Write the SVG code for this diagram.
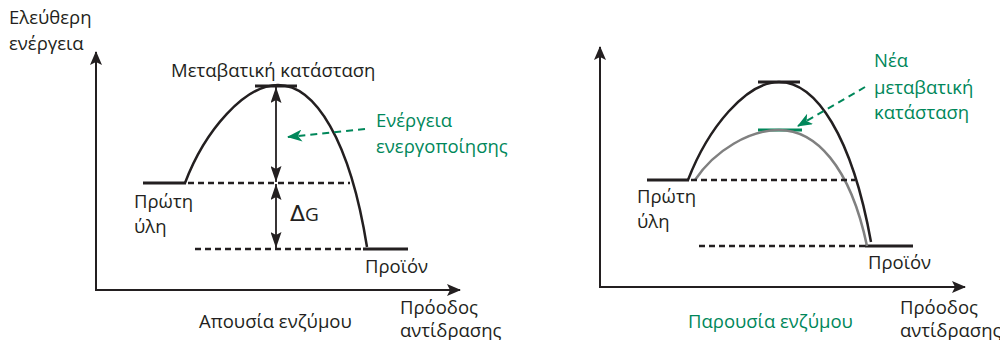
<svg xmlns="http://www.w3.org/2000/svg" width="1000" height="340" viewBox="0 0 1000 340">
<style>
text{font-family:"Open Sans","Noto Sans","DejaVu Sans",sans-serif;font-size:18.5px;fill:#231f20}
.g{fill:#00875a}
.ax{stroke:#231f20;stroke-width:2;fill:none}
.solid{stroke:#231f20;stroke-width:3;fill:none}
.dash{stroke:#231f20;stroke-width:2.5;stroke-dasharray:6 4;fill:none}
.curve{stroke:#231f20;stroke-width:2.5;fill:none}
.gray{stroke:#808080;stroke-width:2.5;fill:none}
.garrow{stroke:#00875a;stroke-width:2;stroke-dasharray:7 5;fill:none}
.dbl{stroke:#231f20;stroke-width:1.8;fill:none}
</style>
<defs>
<marker id="axh" markerWidth="14" markerHeight="12" refX="13" refY="6" orient="auto" markerUnits="userSpaceOnUse" viewBox="0 0 14 12">
<path d="M0,0 L14,6 L0,12 L3,6 Z" fill="#231f20"/>
</marker>
<marker id="ah" markerWidth="16" markerHeight="11" refX="16" refY="5.5" orient="auto-start-reverse" markerUnits="userSpaceOnUse" viewBox="0 0 16 11">
<path d="M0,0 L16,5.5 L0,11 L3,5.5 Z" fill="#231f20"/>
</marker>
<marker id="gh" markerWidth="15" markerHeight="12" refX="14" refY="6" orient="auto" markerUnits="userSpaceOnUse" viewBox="0 0 15 12">
<path d="M0,0 L15,6 L0,12 L4,6 Z" fill="#00875a"/>
</marker>
</defs>

<g id="left-axes">
<line class="ax" x1="96" y1="290" x2="96" y2="52" marker-end="url(#axh)"/>
<line class="ax" x1="95" y1="290" x2="460" y2="290" marker-end="url(#axh)"/>
<text x="9" y="24">Ελεύθερη</text>
<text x="9" y="50">ενέργεια</text>
<text x="400" y="314">Πρόοδος</text>
<text x="400" y="337">αντίδρασης</text>
<text x="199" y="328">Απουσία ενζύμου</text>
</g>

<g id="left-transition">
<line class="solid" x1="255" y1="86" x2="297" y2="86"/>
<text x="171" y="77">Μεταβατική κατάσταση</text>
</g>
<g id="left-reactant">
<line class="solid" x1="143" y1="183" x2="186" y2="183"/>
<text x="134" y="208">Πρώτη</text>
<text x="134" y="233">ύλη</text>
</g>
<g id="left-product">
<line class="solid" x1="363" y1="249" x2="408" y2="249"/>
<text x="365" y="273">Προϊόν</text>
</g>
<g id="left-activation-label">
<text class="g" x="376" y="127">Ενέργεια</text>
<text class="g" x="376" y="153">ενεργοποίησης</text>
</g>
<g id="left-dg-label">
<text x="290" y="221" style="font-family:'DejaVu Sans',sans-serif;font-size:22px">Δ<tspan style="font-family:'Open Sans',sans-serif;font-size:19px">G</tspan></text>
</g>

<g id="right-axes">
<line class="ax" x1="600" y1="287" x2="600" y2="47" marker-end="url(#axh)"/>
<line class="ax" x1="599" y1="287" x2="965" y2="287" marker-end="url(#axh)"/>
<text x="900" y="314">Πρόοδος</text>
<text x="900" y="337">αντίδρασης</text>
<text class="g" x="688" y="328">Παρουσία ενζύμου</text>
</g>
<g id="right-transition">
<line class="solid" x1="758" y1="82" x2="800" y2="82"/>
</g>
<g id="right-new-transition">
<line x1="758" y1="130" x2="802" y2="130" stroke="#00875a" stroke-width="3"/>
<text class="g" x="874" y="67">Νέα</text>
<text class="g" x="874" y="94">μεταβατική</text>
<text class="g" x="874" y="119">κατάσταση</text>
</g>
<g id="right-reactant">
<line class="solid" x1="647" y1="180" x2="689" y2="180"/>
<text x="637" y="203">Πρώτη</text>
<text x="637" y="228">ύλη</text>
</g>
<g id="right-product">
<line class="solid" x1="865" y1="246" x2="913" y2="246"/>
<text x="868" y="269">Προϊόν</text>
</g>

<g id="connectors">
<path class="curve" d="M185,183 C205,130 245,85 278,85 C315,85 350,140 367,247"/>
<line class="dash" x1="188" y1="183" x2="350" y2="183"/>
<line class="dash" x1="195" y1="249" x2="363" y2="249"/>
<line class="dbl" x1="276" y1="87" x2="276" y2="182" marker-start="url(#ah)" marker-end="url(#ah)"/>
<line class="dbl" x1="276" y1="184" x2="276" y2="248" marker-start="url(#ah)" marker-end="url(#ah)"/>
<line class="garrow" x1="365" y1="129" x2="288" y2="137" marker-end="url(#gh)"/>

<path class="curve" d="M688,180 C708,128 746,82 779,82 C816,82 852,136 871,242"/>
<path class="gray" d="M695,180 C715,150 750,130 779,130 C815,130 850,165 867,246"/>
<line class="dash" x1="691" y1="180" x2="855" y2="180"/>
<line class="dash" x1="699" y1="246" x2="865" y2="246"/>
<line class="garrow" x1="865" y1="87" x2="798" y2="126" marker-end="url(#gh)"/>
</g>
</svg>
